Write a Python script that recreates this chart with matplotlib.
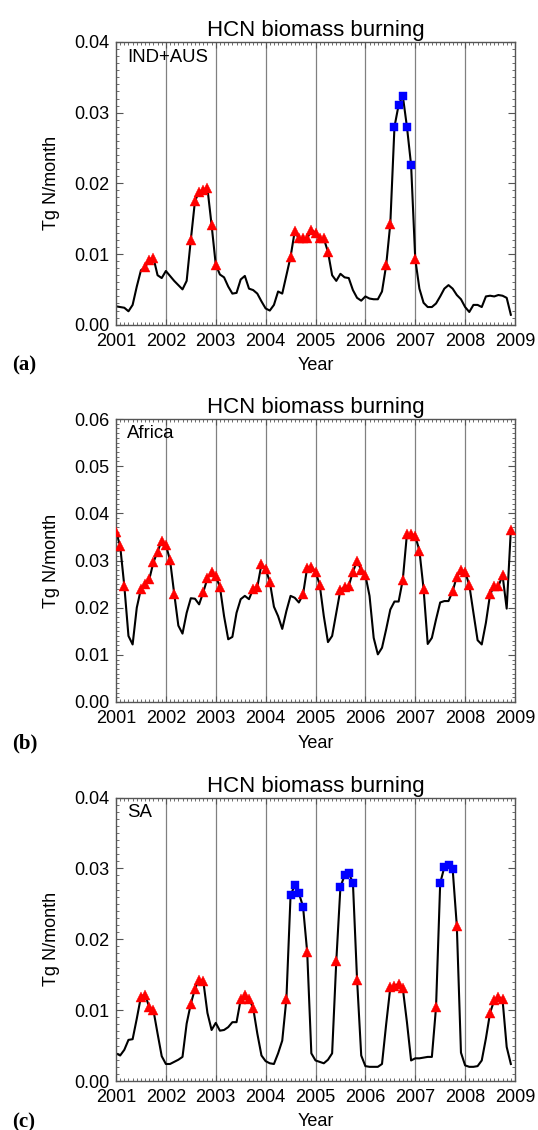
import numpy as np
import matplotlib
matplotlib.use("Agg")
import matplotlib.pyplot as plt
from matplotlib.ticker import MultipleLocator, FormatStrFormatter

# ---------------- data (monthly, Jan 2001 .. Dec 2008) ----------------
years = [2001, 2002, 2003, 2004, 2005, 2006, 2007, 2008, 2009]
title = "HCN biomass burning"
ylabel = "Tg N/month"
xlabel = "Year"

ind_aus = [0.0026, 0.0025, 0.0024, 0.0019, 0.0028, 0.0054, 0.0077, 0.0081, 0.0092, 0.0095,
           0.0070, 0.0066, 0.0076, 0.0069, 0.0062, 0.0056, 0.0050, 0.0062, 0.0120, 0.0175,
           0.0188, 0.0190, 0.0193, 0.0141, 0.0085, 0.0071, 0.0067, 0.0054, 0.0044, 0.0045,
           0.0064, 0.0069, 0.0051, 0.0049, 0.0044, 0.0033, 0.0023, 0.0020, 0.0028, 0.0047,
           0.0044, 0.0070, 0.0096, 0.0132, 0.0122, 0.0122, 0.0122, 0.0134, 0.0130, 0.0123,
           0.0122, 0.0103, 0.0070, 0.0062, 0.0072, 0.0067, 0.0066, 0.0049, 0.0038, 0.0034,
           0.0040, 0.0037, 0.0036, 0.0036, 0.0047, 0.0084, 0.0143, 0.0280, 0.0311, 0.0324,
           0.0280, 0.0226, 0.0093, 0.0051, 0.0031, 0.0025, 0.0025, 0.0030, 0.0040, 0.0051,
           0.0056, 0.0051, 0.0042, 0.0036, 0.0025, 0.0018, 0.0028, 0.0028, 0.0025, 0.0040,
           0.0041, 0.0040, 0.0042, 0.0041, 0.0038, 0.0014]
ind_aus_tri = [7, 8, 9, 18, 19, 20, 21, 22, 23, 24, 42, 43, 44, 45, 46, 47, 48, 49, 50, 51,
               65, 66, 72]
ind_aus_sq = [67, 68, 69, 70, 71]

africa = [0.0361, 0.0331, 0.0246, 0.0140, 0.0122, 0.0200, 0.0240, 0.0250, 0.0260, 0.0296,
          0.0319, 0.0342, 0.0333, 0.0301, 0.0230, 0.0162, 0.0145, 0.0189, 0.0220, 0.0219,
          0.0207, 0.0233, 0.0262, 0.0276, 0.0267, 0.0244, 0.0182, 0.0133, 0.0138, 0.0189,
          0.0218, 0.0225, 0.0218, 0.0240, 0.0244, 0.0292, 0.0282, 0.0255, 0.0202, 0.0182,
          0.0155, 0.0193, 0.0225, 0.0221, 0.0211, 0.0228, 0.0285, 0.0287, 0.0276, 0.0249,
          0.0182, 0.0127, 0.0140, 0.0189, 0.0238, 0.0243, 0.0246, 0.0276, 0.0299, 0.0280,
          0.0269, 0.0225, 0.0136, 0.0101, 0.0115, 0.0154, 0.0196, 0.0213, 0.0213, 0.0259,
          0.0356, 0.0356, 0.0352, 0.0321, 0.0240, 0.0123, 0.0136, 0.0175, 0.0211, 0.0214,
          0.0214, 0.0235, 0.0266, 0.0280, 0.0276, 0.0248, 0.0189, 0.0131, 0.0122, 0.0168,
          0.0228, 0.0246, 0.0245, 0.0269, 0.0198, 0.0365]
africa_tri = [0, 1, 2, 6, 7, 8, 9, 10, 11, 12, 13, 14, 21, 22, 23, 24, 25, 33, 34, 35, 36, 37,
              45, 46, 47, 48, 49, 54, 55, 56, 57, 58, 59, 60, 69, 70, 71, 72, 73, 74,
              81, 82, 83, 84, 85, 90, 91, 92, 93, 95]
africa_sq = []

sa = [0.0039, 0.0036, 0.0044, 0.0058, 0.0059, 0.0088, 0.0119, 0.0122, 0.0104, 0.0100,
      0.0067, 0.0035, 0.0024, 0.0024, 0.0027, 0.0030, 0.0034, 0.0081, 0.0109, 0.0130,
      0.0143, 0.0141, 0.0096, 0.0072, 0.0082, 0.0071, 0.0072, 0.0076, 0.0083, 0.0083,
      0.0115, 0.0121, 0.0116, 0.0103, 0.0067, 0.0036, 0.0028, 0.0025, 0.0024, 0.0039,
      0.0057, 0.0116, 0.0262, 0.0276, 0.0265, 0.0246, 0.0182, 0.0039, 0.0029, 0.0027,
      0.0025, 0.0030, 0.0039, 0.0169, 0.0274, 0.0290, 0.0293, 0.0280, 0.0143, 0.0036,
      0.0021, 0.0020, 0.0020, 0.0020, 0.0024, 0.0080, 0.0132, 0.0134, 0.0137, 0.0131,
      0.0083, 0.0029, 0.0032, 0.0032, 0.0033, 0.0034, 0.0034, 0.0104, 0.0279, 0.0302,
      0.0305, 0.0299, 0.0219, 0.0040, 0.0022, 0.0020, 0.0020, 0.0021, 0.0029, 0.0060,
      0.0096, 0.0114, 0.0119, 0.0115, 0.0048, 0.0024]
sa_tri = [6, 7, 8, 9, 18, 19, 20, 21, 30, 31, 32, 33, 41, 46, 53, 58, 66, 67, 68, 69, 77, 82,
          90, 91, 92, 93]
sa_sq = [42, 43, 44, 45, 54, 55, 56, 57, 78, 79, 80, 81]

panels = [
    ("IND+AUS", "(a)", ind_aus, ind_aus_tri, ind_aus_sq, 0.04),
    ("Africa", "(b)", africa, africa_tri, africa_sq, 0.06),
    ("SA", "(c)", sa, sa_tri, sa_sq, 0.04),
]

# ---------------- layout (pixels) ----------------
W, H = 538, 1130
fig = plt.figure(figsize=(W / 100, H / 100), dpi=100)
plt.rcParams['font.family'] = ['Liberation Sans', 'DejaVu Sans']

ax_left, ax_right = 116, 515
ax_tops = [42, 419, 797.5]
ax_bots = [324.7, 702, 1081]

frame_col = "#555555"
for i, (region, plabel, vals, tri, sq, ymax) in enumerate(panels):
    top, bot = ax_tops[i], ax_bots[i]
    ax = fig.add_axes([ax_left / W, 1 - bot / H, (ax_right - ax_left) / W, (bot - top) / H])
    vals = np.asarray(vals)
    x = years[0] + np.arange(len(vals)) / 12.0

    for yr in years[1:-1]:
        ax.axvline(yr, color="#808080", lw=0.9, zorder=1)

    ax.plot(x, vals, color="black", lw=1.5, zorder=2)
    if tri:
        ax.plot(x[tri], vals[tri], ls="none", marker="^", ms=6.5, color="#ff0000",
                mec="#ff0000", mew=0.3, zorder=3)
    if sq:
        ax.plot(x[sq], vals[sq], ls="none", marker="s", ms=5.6, color="#0000ff",
                mec="#0000ff", mew=0.3, zorder=3)

    ax.set_xlim(years[0], years[-1])
    ax.set_ylim(0, ymax)
    ax.set_xticks(years)
    ax.set_xticklabels([str(y) for y in years])
    ax.xaxis.set_minor_locator(MultipleLocator(1 / 12))
    ax.yaxis.set_major_locator(MultipleLocator(0.01))
    ax.yaxis.set_minor_locator(MultipleLocator(0.001))
    ax.yaxis.set_major_formatter(FormatStrFormatter("%.2f"))

    ax.tick_params(axis="both", which="both", direction="in", top=True, right=True,
                   color=frame_col, labelsize=13, labelcolor="black")
    ax.tick_params(axis="x", which="major", length=4, width=0.8, pad=6)
    ax.tick_params(axis="x", which="minor", length=2.2, width=0.6)
    ax.tick_params(axis="y", which="major", length=5, width=0.8, pad=5)
    ax.tick_params(axis="y", which="minor", length=2.4, width=0.6)
    for s in ax.spines.values():
        s.set_color(frame_col)
        s.set_linewidth(1.0)

    ax.set_title(title, fontsize=16, pad=4)
    ax.text(11 / (ax_right - ax_left), 1 - 15 / (bot - top), region, transform=ax.transAxes,
            fontsize=13.4, ha="left", va="center")

    fig.text(52 / W, 1 - ((top + bot) / 2) / H, ylabel, rotation=90, fontsize=13,
             ha="center", va="center")
    fig.text(((ax_left + ax_right) / 2) / W, 1 - (bot + 45.5) / H, xlabel, fontsize=13,
             ha="center", va="baseline")
    fig.text(12 / W, 1 - (bot + 46) / H, plabel, fontsize=15, fontweight="bold",
             family=["Liberation Serif", "DejaVu Serif"], ha="left", va="baseline")

fig.savefig("out.png", dpi=100)
